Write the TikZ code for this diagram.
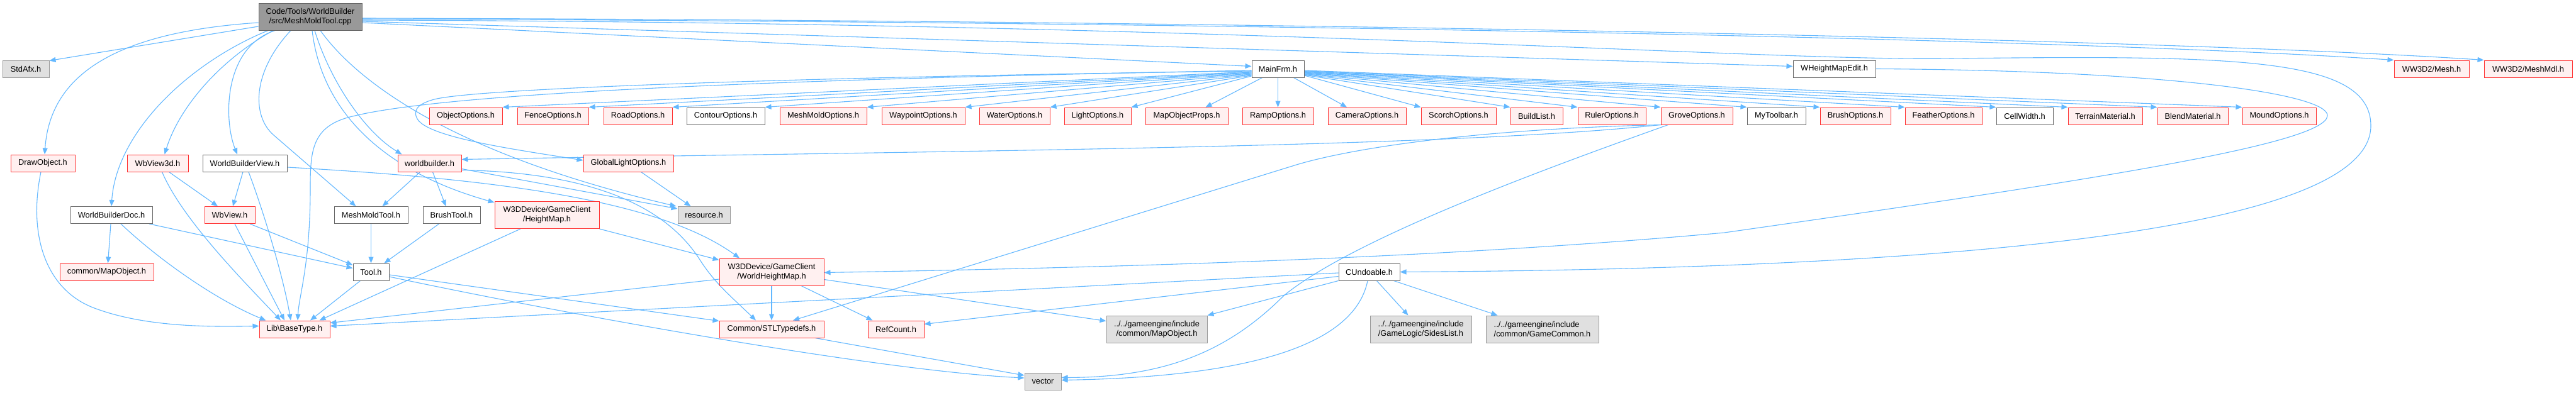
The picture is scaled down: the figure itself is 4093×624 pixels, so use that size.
\documentclass[tikz,border=0pt]{standalone}
\usepackage{fontspec}
\setmainfont{Liberation Sans}
\usetikzlibrary{arrows.meta}
\definecolor{edgeblue}{HTML}{63B8FF}
\definecolor{boxred}{HTML}{FF3030}
\definecolor{boxpink}{HTML}{FFF0F0}
\definecolor{boxgray}{HTML}{666666}
\definecolor{extfill}{HTML}{E0E0E0}
\definecolor{extdraw}{HTML}{999999}
\definecolor{rootfill}{HTML}{999999}
\pgfdeclarelayer{bg}
\pgfsetlayers{bg,main}
\begin{document}
\begin{tikzpicture}[x=1pt,y=-1pt,
 box/.style={draw, rectangle, inner sep=0pt, minimum height=27pt, align=center, line width=1pt, font=\fontsize{12.8pt}{15pt}\selectfont},
 rbox/.style={box, draw=boxred, fill=boxpink},
 wbox/.style={box, draw=boxgray, fill=white},
 xbox/.style={box, draw=extdraw, fill=extfill},
 rootbox/.style={box, draw=boxgray, fill=rootfill},
 tall/.style={minimum height=43pt},
 edge/.style={draw=edgeblue, line width=1.1pt, -{Triangle[length=10pt,width=8pt]}},
]
\useasboundingbox (0,0) rectangle (4093,624);

% row 0 / 1
\node[rootbox, tall, minimum width=164pt] (root) at (493,26.5) {Code/Tools/WorldBuilder\\/src/MeshMoldTool.cpp};
\node[xbox, minimum width=74pt] (stdafx) at (41,109.5) {StdAfx.h};
\node[wbox, minimum width=83pt] (mainfrm) at (2030.5,109.5) {MainFrm.h};
\node[wbox, minimum width=131pt] (whme) at (2914.5,109.5) {WHeightMapEdit.h};
\node[rbox, minimum width=119pt] (mesh) at (3863.5,109.5) {WW3D2/Mesh.h};
\node[rbox, minimum width=140pt] (meshmdl) at (4017,109.5) {WW3D2/MeshMdl.h};

% row 2
\node[rbox, minimum width=116pt] (oopt) at (740,184.5) {ObjectOptions.h};
\node[rbox, minimum width=113pt] (fence) at (878.5,184.5) {FenceOptions.h};
\node[rbox, minimum width=109pt] (road) at (1013.5,184.5) {RoadOptions.h};
\node[wbox, minimum width=124pt] (contour) at (1153,184.5) {ContourOptions.h};
\node[rbox, minimum width=138pt] (mmopt) at (1308,184.5) {MeshMoldOptions.h};
\node[rbox, minimum width=132pt] (wayp) at (1467,184.5) {WaypointOptions.h};
\node[rbox, minimum width=112pt] (water) at (1612,184.5) {WaterOptions.h};
\node[rbox, minimum width=106pt] (light) at (1744,184.5) {LightOptions.h};
\node[rbox, minimum width=131pt] (mop) at (1885.5,184.5) {MapObjectProps.h};
\node[rbox, minimum width=113pt] (ramp) at (2030.5,184.5) {RampOptions.h};
\node[rbox, minimum width=124pt] (camera) at (2172,184.5) {CameraOptions.h};
\node[rbox, minimum width=119pt] (scorch) at (2317.5,184.5) {ScorchOptions.h};
\node[rbox, minimum width=83pt] (build) at (2441.5,184.5) {BuildList.h};
\node[rbox, minimum width=108pt] (ruler) at (2561,184.5) {RulerOptions.h};
\node[rbox, minimum width=114pt] (grove) at (2696,184.5) {GroveOptions.h};
\node[wbox, minimum width=93pt] (mytb) at (2822.5,184.5) {MyToolbar.h};
\node[rbox, minimum width=112pt] (bropt) at (2948,184.5) {BrushOptions.h};
\node[rbox, minimum width=122pt] (feather) at (3088,184.5) {FeatherOptions.h};
\node[wbox, minimum width=90pt] (cellw) at (3217,184.5) {CellWidth.h};
\node[rbox, minimum width=118pt] (terrain) at (3345,184.5) {TerrainMaterial.h};
\node[rbox, minimum width=112pt] (blend) at (3484,184.5) {BlendMaterial.h};
\node[rbox, minimum width=117pt] (mound) at (3621.5,184.5) {MoundOptions.h};

% row 3
\node[rbox, minimum width=102pt] (drawobj) at (68,259.5) {DrawObject.h};
\node[rbox, minimum width=97pt] (wbv3d) at (250.5,259.5) {WbView3d.h};
\node[wbox, minimum width=134pt] (wbview) at (389,259.5) {WorldBuilderView.h};
\node[rbox, minimum width=101pt] (wbh) at (682.5,259.5) {worldbuilder.h};
\node[rbox, minimum width=143pt] (glopt) at (998.5,259.5) {GlobalLightOptions.h};

% row 4
\node[wbox, minimum width=130pt] (wbdoc) at (177,342) {WorldBuilderDoc.h};
\node[rbox, minimum width=80pt] (wbv) at (365,342) {WbView.h};
\node[wbox, minimum width=117pt] (mmtool) at (589.5,342) {MeshMoldTool.h};
\node[wbox, minimum width=91pt] (brtool) at (717.5,342) {BrushTool.h};
\node[rbox, tall, minimum width=166pt] (hmap) at (869,342) {W3DDevice/GameClient\\/HeightMap.h};
\node[xbox, minimum width=83pt] (res) at (1118.5,342) {resource.h};

% row 5
\node[rbox, minimum width=149pt] (cmo) at (169.5,432.5) {common/MapObject.h};
\node[wbox, minimum width=57pt] (tool) at (589.5,432.5) {Tool.h};
\node[rbox, tall, minimum width=166pt] (whm) at (1226,432.5) {W3DDevice/GameClient\\/WorldHeightMap.h};
\node[wbox, minimum width=97pt] (cundo) at (2175.5,432.5) {CUndoable.h};

% row 6
\node[rbox, minimum width=112pt] (btype) at (468,523.5) {Lib\textbackslash BaseType.h};
\node[rbox, minimum width=166pt] (stl) at (1226,523.5) {Common/STLTypedefs.h};
\node[rbox, minimum width=89pt] (refc) at (1423.5,523.5) {RefCount.h};
\node[xbox, tall, minimum width=160pt] (gemo) at (1838,523.5) {../../gameengine/include\\/common/MapObject.h};
\node[xbox, tall, minimum width=161pt] (sides) at (2257.5,523.5) {../../gameengine/include\\/GameLogic/SidesList.h};
\node[xbox, tall, minimum width=179pt, align=left] (gcom) at (2450.5,523.5) {../../gameengine/include\\/common/GameCommon.h};

% row 7
\node[xbox, minimum width=58pt] (vec) at (1657,606.5) {vector};

\begin{pgfonlayer}{bg}
\fill[white] (0,0) rectangle (4093,624);
% root
\draw[edge] ([yshift=-15.5pt]root.west) -- ([yshift=-1pt]stdafx.north east);
\draw[edge] ([yshift=-9.5pt]root.west) .. controls (200,50) and (80,110) .. ([xshift=3pt]drawobj.north);
\draw[edge] ([xshift=-67pt]root.south) .. controls (300,100) and (185,210) .. (wbdoc.north);
\draw[edge] ([xshift=-59pt]root.south) .. controls (350,95) and (285,170) .. ([xshift=11pt]wbv3d.north);
\draw[edge] ([xshift=-56pt]root.south) .. controls (355,75) and (355,190) .. ([xshift=-12pt]wbview.north);
\draw[edge] ([xshift=-31pt]root.south) .. controls (400,115) and (400,185) .. (435,215) -- ([xshift=-24pt]mmtool.north);
\draw[edge] ([xshift=7pt]root.south) .. controls (525,130) and (580,210) .. ([xshift=-44pt]wbh.north);
\draw[edge] ([xshift=3pt]root.south) .. controls (510,170) and (600,270) .. ([yshift=-2pt]hmap.north west);
\draw[edge] ([xshift=16pt]root.south) .. controls (560,120) and (700,240) .. ([xshift=-2pt]res.north west);
\draw[edge] ([yshift=-9.5pt]root.east) -- ([yshift=-10pt]mainfrm.north west);
\draw[edge] ([yshift=-7.5pt]root.east) -- ([yshift=-10pt]whme.north west);
\draw[edge] ([yshift=-3.5pt]root.east) .. controls (2000,35) and (3300,62) .. (mesh.north west);
\draw[edge] ([yshift=-2.5pt]root.east) .. controls (2000,32) and (3450,62) .. (meshmdl.north west);
\draw[edge] ([yshift=-5.5pt]root.east) .. controls (2000,36) and (2800,98) .. (3100,93) .. controls (3550,88) and (3767,90) .. (3767,200) .. controls (3767,380) and (3000,428) .. (cundo.east);
% WHeightMapEdit
\draw[edge] (whme.east) .. controls (3450,112) and (3700,150) .. (3698,184) .. controls (3696,230) and (3300,290) .. (2740,370) .. controls (2300,410) and (1800,425) .. ([yshift=-1pt]whm.east);
% MainFrm left fan
\draw[edge] ([yshift=-2.5pt]mainfrm.west) .. controls (1300,125) and (720,145) .. (560,185) .. controls (495,200) and (493,240) .. (493,300) .. controls (493,420) and (475,470) .. ([xshift=5pt]btype.north);
\draw[edge] ([yshift=-3.5pt]mainfrm.west) .. controls (1300,122) and (760,140) .. (690,158) .. controls (660,166) and (655,178) .. (665,192) .. controls (690,220) and (820,238) .. ([yshift=4.5pt]glopt.west);
\draw[edge] ([yshift=-4.5pt]mainfrm.west) -- (oopt.north east);
\draw[edge] ([yshift=-5.5pt]mainfrm.west) -- (fence.north east);
\draw[edge] ([yshift=-6.5pt]mainfrm.west) -- (road.north east);
\draw[edge] ([yshift=-7.5pt]mainfrm.west) -- (contour.north east);
\draw[edge] ([yshift=-8.5pt]mainfrm.west) -- (mmopt.north east);
\draw[edge] ([yshift=-9.5pt]mainfrm.west) -- (wayp.north east);
\draw[edge] ([yshift=-10.5pt]mainfrm.west) -- (water.north east);
\draw[edge] ([yshift=-11.5pt]mainfrm.west) -- (light.north east);
\draw[edge] ([xshift=-25pt]mainfrm.south) -- ([xshift=30pt]mop.north);
\draw[edge] (mainfrm.south) -- (ramp.north);
\draw[edge] ([xshift=25pt]mainfrm.south) -- ([xshift=-32pt]camera.north);
% MainFrm right fan
\draw[edge] ([yshift=-10.5pt]mainfrm.east) -- (scorch.north west);
\draw[edge] ([yshift=-9.7pt]mainfrm.east) -- (build.north west);
\draw[edge] ([yshift=-8.9pt]mainfrm.east) -- (ruler.north west);
\draw[edge] ([yshift=-8.1pt]mainfrm.east) -- (grove.north west);
\draw[edge] ([yshift=-7.3pt]mainfrm.east) -- (mytb.north west);
\draw[edge] ([yshift=-6.5pt]mainfrm.east) -- (bropt.north west);
\draw[edge] ([yshift=-5.7pt]mainfrm.east) -- (feather.north west);
\draw[edge] ([yshift=-4.9pt]mainfrm.east) -- (cellw.north west);
\draw[edge] ([yshift=-4.1pt]mainfrm.east) -- (terrain.north west);
\draw[edge] ([yshift=-3.3pt]mainfrm.east) -- (blend.north west);
\draw[edge] ([yshift=-2.5pt]mainfrm.east) -- (mound.north west);
% GroveOptions
\draw[edge] (grove.south west) .. controls (2300,235) and (1500,240) .. ([yshift=6pt]wbh.east);
\draw[edge] ([xshift=2pt]grove.south west) .. controls (2350,205) and (2150,235) .. (2060,262) -- ([xshift=34pt]stl.north);
\draw[edge] ([xshift=12pt]grove.south west) .. controls (2450,270) and (2150,380) .. (2040,470) .. controls (1950,560) and (1850,600) .. ([yshift=6pt]vec.east);
% CUndoable
\draw[edge] ([xshift=-2.5pt]cundo.south) .. controls (2150,560) and (1950,600) .. ([yshift=2pt]vec.east);
\draw[edge] ([xshift=12pt]cundo.south) -- ([xshift=-20pt]sides.north);
\draw[edge] ([xshift=39pt]cundo.south) -- ([xshift=19pt]gcom.north west);
\draw[edge] ([yshift=-14pt]cundo.west) -- (gemo.north east);
\draw[edge] ([yshift=-7pt]cundo.west) -- ([yshift=8pt]refc.east);
\draw[edge] ([yshift=-1.5pt]cundo.west) -- ([yshift=5pt]btype.east);
% WorldHeightMap
\draw[edge] ([yshift=-11.5pt]whm.west) -- ([yshift=10pt]btype.east);
\draw[edge] (whm.south) -- (stl.north);
\draw[edge] ([xshift=47pt]whm.south) -- ([xshift=8pt]refc.north west);
\draw[edge] ([yshift=-12pt]whm.east) -- ([yshift=13pt]gemo.west);
% HeightMap
\draw[edge] (hmap.south east) -- ([yshift=-3pt]whm.north west);
\draw[edge] ([xshift=-42pt]hmap.south) -- ([xshift=-17pt]btype.north east);
% Tool
\draw[edge] ([xshift=-17pt]tool.south) -- ([xshift=25pt]btype.north);
\draw[edge] ([yshift=-4.5pt]tool.east) -- ([yshift=-1pt]stl.north west);
\draw[edge] ([yshift=-7.5pt]tool.east) .. controls (900,500) and (1400,590) .. ([yshift=5.5pt]vec.west);
\draw[edge] ([xshift=69pt]stl.south) -- ([yshift=9.5pt]vec.west);
% WorldBuilderDoc
\draw[edge] ([xshift=-1pt]wbdoc.south) -- ([xshift=2pt]cmo.north);
\draw[edge] ([xshift=60pt]wbdoc.south) -- ([yshift=6pt]tool.west);
\draw[edge] ([xshift=15pt]wbdoc.south) .. controls (260,420) and (350,480) .. ([xshift=11pt]btype.north west);
% DrawObject
\draw[edge] ([xshift=-3pt]drawobj.south) .. controls (45,370) and (70,460) .. (150,490) .. controls (230,520) and (330,520) .. ([yshift=5pt]btype.west);
% WbView3d
\draw[edge] ([xshift=18pt]wbv3d.south) -- ([xshift=-19pt]wbv.north);
\draw[edge] ([xshift=7pt]wbv3d.south) .. controls (290,350) and (390,450) .. ([xshift=-22pt]btype.north);
% WorldBuilderView
\draw[edge] ([xshift=-3pt]wbview.south) -- ([xshift=5pt]wbv.north);
\draw[edge] ([xshift=6pt]wbview.south) .. controls (420,340) and (450,440) .. ([xshift=-6pt]btype.north);
\draw[edge] ([yshift=-6.5pt]wbview.east) .. controls (800,285) and (1050,320) .. ([xshift=-51pt]whm.north);
% WbView
\draw[edge] ([xshift=32pt]wbv.south) -- ([yshift=-3pt]tool.north west);
\draw[edge] ([xshift=8pt]wbv.south) -- ([xshift=-16pt]btype.north);
% tools
\draw[edge] (mmtool.south) -- (tool.north);
\draw[edge] ([xshift=-20pt]brtool.south) -- ([xshift=-8pt]tool.north east);
% worldbuilder
\draw[edge] ([xshift=-15pt]wbh.south) -- ([xshift=18pt]mmtool.north);
\draw[edge] ([xshift=5pt]wbh.south) -- ([xshift=-9pt]brtool.north);
\draw[edge] ([yshift=-9pt]wbh.east) -- ([yshift=-4pt]res.north west);
\draw[edge] ([yshift=-11pt]wbh.east) .. controls (980,275) and (1070,350) .. (1110,410) .. controls (1135,450) and (1160,470) .. ([xshift=-25pt]stl.north);
% GlobalLightOptions
\draw[edge] ([xshift=20pt]glopt.south) -- ([xshift=-21pt]res.north);
\end{pgfonlayer}
\end{tikzpicture}
\end{document}
